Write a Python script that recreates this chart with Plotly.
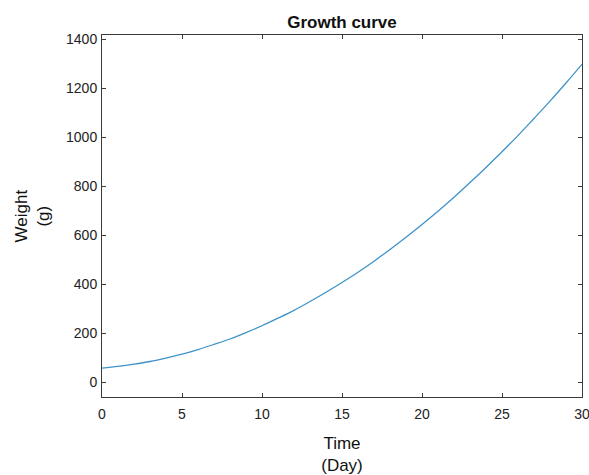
import plotly.graph_objects as go

days = list(range(0, 31))
weight = [57, 64, 73, 84, 98, 114, 133, 154, 176, 202, 230, 261, 293, 329, 367,
          407, 449, 494, 542, 592, 644, 698, 755, 815, 877, 941, 1007, 1077, 1148, 1222, 1298]

x_ticks = [0, 5, 10, 15, 20, 25, 30]
y_ticks = [0, 200, 400, 600, 800, 1000, 1200, 1400]

font_family = "Liberation Sans, Arial, sans-serif"
axis_color = "#3a3a3a"

W, H = 589, 475
ML, MR, MT, MB = 102, 7, 35, 78
PW = W - ML - MR

fig = go.Figure()
fig.add_trace(go.Scatter(x=days, y=weight, mode="lines",
                         line=dict(color="#3f93c8", width=1.3, shape="spline"),
                         showlegend=False, hoverinfo="skip"))

fig.update_layout(
    width=W, height=H,
    margin=dict(l=ML, r=MR, t=MT, b=MB, autoexpand=False),
    paper_bgcolor="white", plot_bgcolor="white",
    font=dict(family=font_family, color="#222222", size=13),
    title=dict(text="<b>Growth curve</b>", x=(ML + (W - MR)) / 2 / W, xanchor="center",
               y=1 - 22 / H, yanchor="middle",
               font=dict(size=17, color="#111111")),
)
fig.add_annotation(
    text="Weight<br>(g)", textangle=-90, showarrow=False,
    xref="paper", yref="paper", x=(31.5 - ML) / PW, y=0.5,
    xanchor="center", yanchor="middle",
    font=dict(size=17, color="#111111"),
)
fig.update_xaxes(
    range=[0, 30], tickvals=x_ticks, ticktext=[str(v) for v in x_ticks],
    showgrid=False, zeroline=False, automargin=False,
    showline=True, linecolor=axis_color, linewidth=1, mirror="ticks",
    ticks="inside", ticklen=4, tickcolor=axis_color, tickwidth=1,
    ticklabelstandoff=4, ticklabeloverflow="allow",
    tickfont=dict(size=14, color="#222222"),
    title=dict(text="Time<br>(Day)", font=dict(size=17, color="#111111"), standoff=16),
)
fig.update_yaxes(
    range=[-61, 1418], tickvals=y_ticks, ticktext=[str(v) for v in y_ticks],
    showgrid=False, zeroline=False, automargin=False,
    showline=True, linecolor=axis_color, linewidth=1, mirror="ticks",
    ticks="inside", ticklen=4, tickcolor=axis_color, tickwidth=1,
    ticklabelstandoff=1,
    tickfont=dict(size=14, color="#222222"),
)

fig.write_html("out.html", config={"displayModeBar": False},
               post_script="document.body.style.margin='0';document.body.style.overflow='hidden';")
